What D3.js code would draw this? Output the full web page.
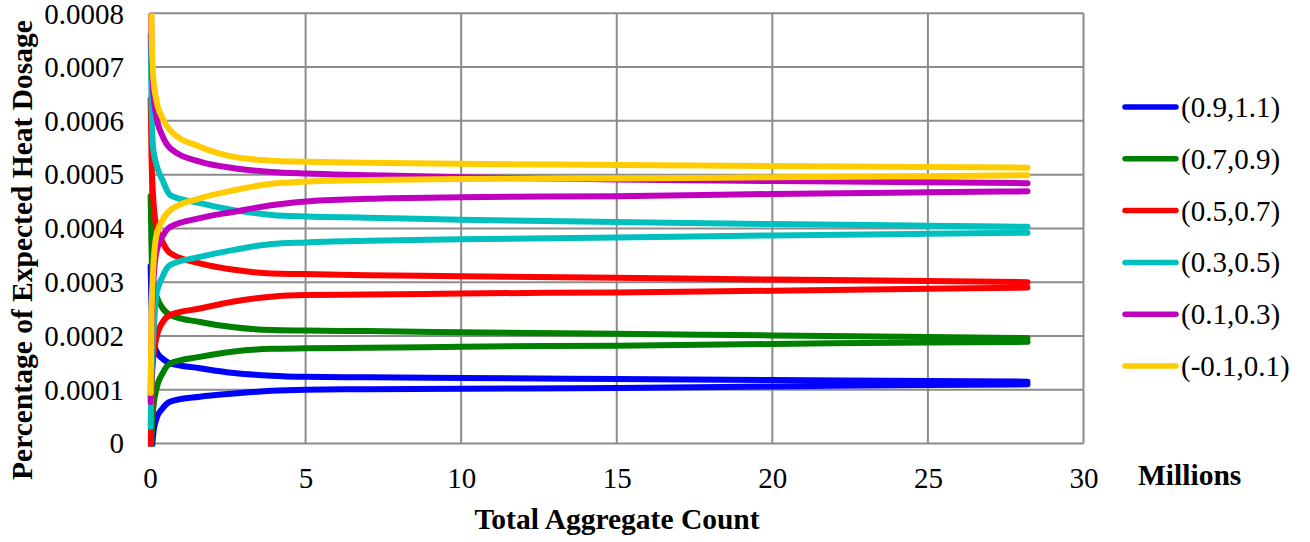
<!DOCTYPE html>
<html>
<head>
<meta charset="utf-8">
<script src="https://cdn.jsdelivr.net/npm/d3@7"></script>
<style>
  html, body { margin: 0; padding: 0; background: #fff; }
  svg { display: block; }
  text { font-family: "Liberation Serif", "Times New Roman", serif; fill: #000; }
</style>
</head>
<body>
<svg id="chart" width="1310" height="542"></svg>
<script>
// Total aggregate count (millions) at which each bound was evaluated
const counts = [0.02, 0.05, 0.1, 0.2, 0.4, 0.65, 1.6, 2.7, 3.9, 5, 7, 10, 15, 20, 25, 28.2];

// Band labels, in legend order
const bands = ["(0.9,1.1)", "(0.7,0.9)", "(0.5,0.7)", "(0.3,0.5)", "(0.1,0.3)", "(-0.1,0.1)"];
const bandColors = ["#0000FF", "#008000", "#FF0000", "#00BFBF", "#BF00BF", "#FFCC00"];

// Upper and lower bounds per band, in units of 1e-4
const upper_09_11 = [3.3, 2.5, 2.0, 1.72, 1.58, 1.49, 1.40, 1.31, 1.26, 1.24, 1.23, 1.22, 1.20, 1.18, 1.16, 1.15];
const lower_09_11 = [-1.2, -0.3, 0.15, 0.45, 0.65, 0.78, 0.87, 0.93, 0.98, 1.00, 1.01, 1.02, 1.03, 1.06, 1.09, 1.10];
const upper_07_09 = [4.6, 3.6, 2.95, 2.75, 2.52, 2.39, 2.26, 2.16, 2.11, 2.10, 2.09, 2.07, 2.04, 2.01, 1.98, 1.96];
const lower_07_09 = [-0.7, 0.1, 0.62, 1.0, 1.3, 1.49, 1.61, 1.71, 1.76, 1.77, 1.78, 1.80, 1.82, 1.85, 1.88, 1.89];
const upper_05_07 = [6.4, 5.3, 4.6, 4.05, 3.75, 3.54, 3.35, 3.23, 3.16, 3.15, 3.13, 3.11, 3.08, 3.05, 3.02, 3.00];
const lower_05_07 = [-0.3, 1.0, 1.55, 1.95, 2.25, 2.39, 2.51, 2.64, 2.73, 2.76, 2.77, 2.79, 2.81, 2.84, 2.88, 2.90];
const upper_03_05 = [7.6, 6.3, 5.5, 5.2, 4.9, 4.62, 4.47, 4.34, 4.25, 4.22, 4.20, 4.16, 4.12, 4.08, 4.05, 4.03];
const lower_03_05 = [0.31, 1.3, 1.9, 2.75, 3.1, 3.32, 3.47, 3.60, 3.71, 3.74, 3.77, 3.80, 3.83, 3.87, 3.90, 3.92];
const upper_01_03 = [8.8, 7.3, 6.6, 6.1, 5.72, 5.49, 5.24, 5.12, 5.05, 5.02, 4.99, 4.95, 4.91, 4.88, 4.86, 4.84];
const lower_01_03 = [0.77, 2.2, 2.9, 3.55, 3.85, 4.03, 4.19, 4.31, 4.43, 4.50, 4.55, 4.58, 4.60, 4.64, 4.67, 4.69];
const upper_m01_01 = [9.2, 7.7, 6.85, 6.4, 6.05, 5.82, 5.52, 5.33, 5.26, 5.24, 5.22, 5.20, 5.18, 5.16, 5.14, 5.13];
const lower_m01_01 = [0.94, 2.4, 3.2, 3.85, 4.15, 4.34, 4.56, 4.71, 4.83, 4.87, 4.90, 4.92, 4.93, 4.95, 4.97, 4.99];

const bandBounds = [
  [upper_09_11, lower_09_11],
  [upper_07_09, lower_07_09],
  [upper_05_07, lower_05_07],
  [upper_03_05, lower_03_05],
  [upper_01_03, lower_01_03],
  [upper_m01_01, lower_m01_01]
];

const xTicks = [0, 5, 10, 15, 20, 25, 30];
const yTicks = [0, 0.0001, 0.0002, 0.0003, 0.0004, 0.0005, 0.0006, 0.0007, 0.0008];

const svg = d3.select("#chart");
const plot = { left: 150, right: 1083.5, top: 13.3, bottom: 443.5 };

const x = d3.scaleLinear().domain([0, 30]).range([plot.left, plot.right]);
const y = d3.scaleLinear().domain([0, 0.0008]).range([plot.bottom, plot.top]);

// Gridlines
const gridColor = "#8C8C8C";
svg.append("g").selectAll("line").data(yTicks).join("line")
  .attr("x1", plot.left).attr("x2", plot.right)
  .attr("y1", d => y(d)).attr("y2", d => y(d))
  .attr("stroke", gridColor).attr("stroke-width", 2);
svg.append("g").selectAll("line").data(xTicks).join("line")
  .attr("x1", d => x(d)).attr("x2", d => x(d))
  .attr("y1", plot.top).attr("y2", plot.bottom)
  .attr("stroke", gridColor).attr("stroke-width", 2);

// Axes (labels only; the grid provides the frame)
const tickFont = 29;
const yAxis = d3.axisLeft(y).tickValues(yTicks)
  .tickFormat(d => d === 0 ? "0" : d3.format(".4f")(d))
  .tickSize(0).tickPadding(26);
svg.append("g").attr("transform", `translate(${plot.left},0)`).call(yAxis)
  .call(g => g.select(".domain").remove())
  .call(g => g.selectAll("text").attr("font-size", tickFont)
    .attr("font-family", "Liberation Serif, serif").attr("fill", "#000")
    .attr("dy", d => d === 0.0008 ? "0.36em" : "0.32em"));

const xAxis = d3.axisBottom(x).tickValues(xTicks).tickFormat(d3.format("d"))
  .tickSize(0);
svg.append("g").attr("transform", `translate(0,${plot.bottom})`).call(xAxis)
  .call(g => g.select(".domain").remove())
  .call(g => g.selectAll("text").attr("font-size", tickFont)
    .attr("font-family", "Liberation Serif, serif").attr("fill", "#000")
    .attr("dy", null).attr("y", 44.5));

// Clip the bound curves to the plot area
svg.append("defs").append("clipPath").attr("id", "plotClip")
  .append("rect").attr("x", plot.left - 6).attr("y", plot.top)
  .attr("width", plot.right - plot.left + 12).attr("height", plot.bottom - plot.top + 3);

const line = d3.line()
  .x((d, i) => x(counts[i]))
  .y(d => y(d * 1e-4))
  .curve(d3.curveMonotoneX);

const curves = svg.append("g").attr("clip-path", "url(#plotClip)");
bandBounds.forEach((pair, bi) => {
  pair.forEach(vals => {
    curves.append("path")
      .datum(vals)
      .attr("d", line)
      .attr("fill", "none")
      .attr("stroke", bandColors[bi])
      .attr("stroke-width", 6)
      .attr("stroke-linecap", "round")
      .attr("stroke-linejoin", "round");
  });
});

// Legend
const legend = svg.append("g").attr("transform", "translate(1122,107)");
const item = legend.selectAll("g").data(bands).join("g")
  .attr("transform", (d, i) => `translate(0,${i * 51.8})`);
item.append("line").attr("x1", 3).attr("x2", 54).attr("y1", 0).attr("y2", 0)
  .attr("stroke", (d, i) => bandColors[i]).attr("stroke-width", 5.5)
  .attr("stroke-linecap", "round");
item.append("text").attr("x", 59).attr("y", 10).attr("font-size", 29).text(d => d);

// Axis titles
const titleFont = 29.5;
svg.append("text")
  .attr("transform", "translate(31.5,250) rotate(-90)")
  .attr("text-anchor", "middle").attr("font-size", titleFont).attr("font-weight", "bold")
  .text("Percentage of Expected Heat Dosage");
svg.append("text")
  .attr("x", 617).attr("y", 529).attr("text-anchor", "middle")
  .attr("font-size", titleFont).attr("font-weight", "bold")
  .text("Total Aggregate Count");
svg.append("text")
  .attr("x", 1138).attr("y", 485)
  .attr("font-size", titleFont).attr("font-weight", "bold")
  .text("Millions");
</script>
</body>
</html>
